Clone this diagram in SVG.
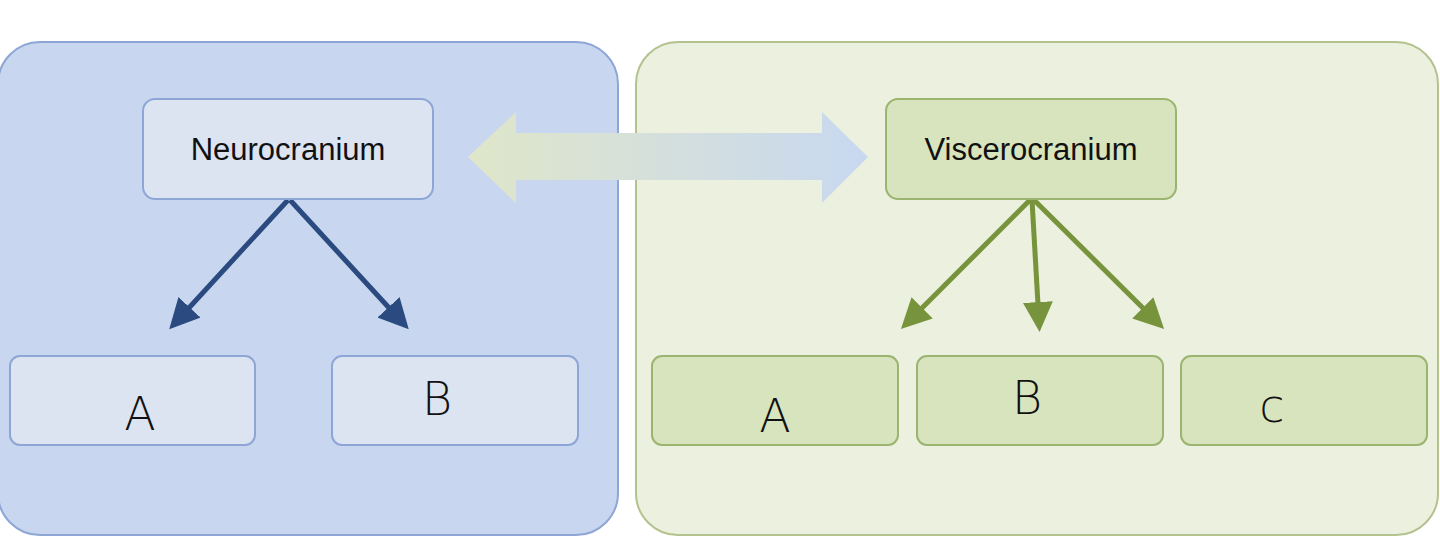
<svg xmlns="http://www.w3.org/2000/svg" width="1440" height="541" viewBox="0 0 1440 541">
<style>
.lbl{font-family:"Liberation Sans",Arial,sans-serif;font-size:31px;fill:#111;text-anchor:middle}
.hand{font-family:"DejaVu Sans",sans-serif;font-size:46px;font-weight:200;fill:#111;text-anchor:middle}
.bn{fill:#dce4f2;stroke:#8ea6d6;stroke-width:2}
.gn{fill:#d7e4bd;stroke:#9bb470;stroke-width:2}
.ba{stroke:#2a4a80;stroke-width:5;fill:none;marker-end:url(#bh)}
.ga{stroke:#77933c;stroke-width:5;fill:none;marker-end:url(#gh)}
</style>
<defs>
<marker id="bh" markerWidth="6" markerHeight="6" refX="4" refY="3" orient="auto"><path d="M0,0 L6,3 L0,6 Z" fill="#2a4a80"/></marker>
<marker id="gh" markerWidth="6" markerHeight="6" refX="4" refY="3" orient="auto"><path d="M0,0 L6,3 L0,6 Z" fill="#77933c"/></marker>
<linearGradient id="dg" x1="0" x2="1"><stop offset="0" stop-color="#dfe6c9"/><stop offset="1" stop-color="#c8d8f0"/></linearGradient>
</defs>
<rect width="1440" height="541" fill="#fff"/>
<g id="panel-left"><rect x="-2" y="42" width="620" height="493" rx="42" fill="#c8d7ef" stroke="#8ea6d6" stroke-width="2"/></g>
<g id="panel-right"><rect x="636" y="42" width="802" height="493" rx="42" fill="#ebf0df" stroke="#b3c28e" stroke-width="2"/></g>
<g id="connectors">
<path d="M468,157 L516,112 L516,133 L822,133 L822,112 L868,157 L822,203 L822,180 L516,180 L516,203 Z" fill="url(#dg)"/>
<path class="ba" d="M288,200 L176,322"/>
<path class="ba" d="M290,200 L402,322"/>
<path class="ga" d="M1030,200 L908,322"/>
<path class="ga" d="M1032,200 L1039,322"/>
<path class="ga" d="M1034,200 L1157,322"/>
</g>
<g id="neurocranium"><rect class="bn" x="143" y="99" width="290" height="100" rx="12"/><text class="lbl" x="288" y="160">Neurocranium</text></g>
<g id="viscerocranium"><rect class="gn" x="886" y="99" width="290" height="100" rx="12"/><text class="lbl" x="1031" y="160">Viscerocranium</text></g>
<g id="n-a"><rect class="bn" x="10" y="356" width="245" height="89" rx="10"/><text class="hand" x="140" y="430">A</text></g>
<g id="n-b"><rect class="bn" x="332" y="356" width="246" height="89" rx="10"/><text class="hand" x="437" y="415">B</text></g>
<g id="v-a"><rect class="gn" x="652" y="356" width="246" height="89" rx="10"/><text class="hand" x="775" y="432">A</text></g>
<g id="v-b"><rect class="gn" x="917" y="356" width="246" height="89" rx="10"/><text class="hand" x="1027" y="414">B</text></g>
<g id="v-c"><rect class="gn" x="1181" y="356" width="246" height="89" rx="10"/><text class="hand" x="1272" y="422">c</text></g>
</svg>
